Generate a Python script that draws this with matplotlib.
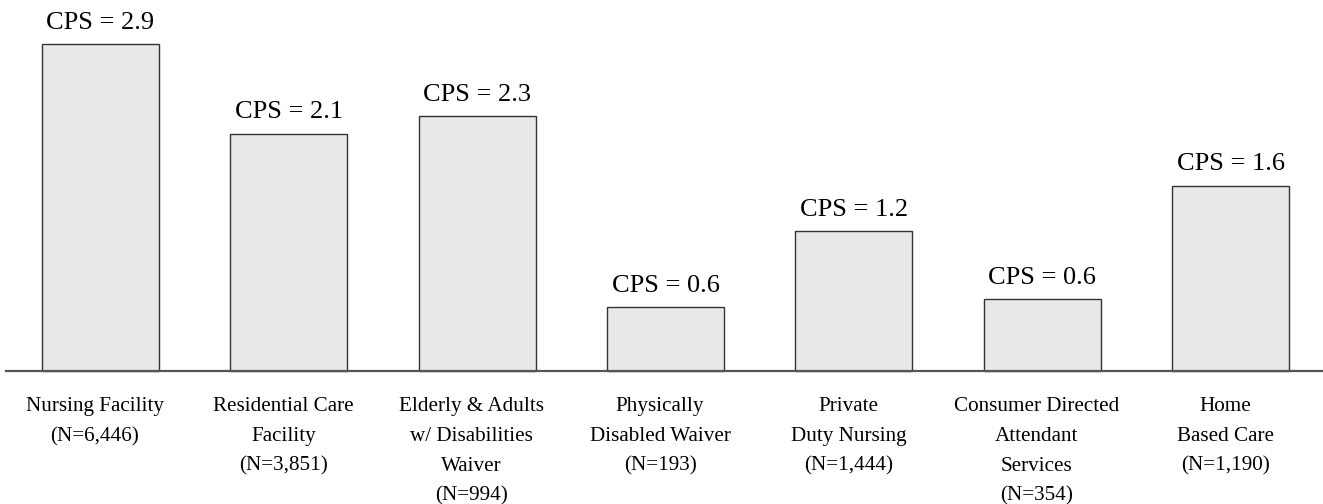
import matplotlib
matplotlib.use("Agg")
import matplotlib.pyplot as plt

plt.rcParams['font.family'] = ['Liberation Serif', 'DejaVu Serif']

categories = [
    "Nursing Facility\n(N=6,446)",
    "Residential Care\nFacility\n(N=3,851)",
    "Elderly & Adults\nw/ Disabilities\nWaiver\n(N=994)",
    "Physically\nDisabled Waiver\n(N=193)",
    "Private\nDuty Nursing\n(N=1,444)",
    "Consumer Directed\nAttendant\nServices\n(N=354)",
    "Home\nBased Care\n(N=1,190)",
]
cps_values = [2.894, 2.10, 2.257, 0.564, 1.239, 0.635, 1.640]
cps_labels = ["2.9", "2.1", "2.3", "0.6", "1.2", "0.6", "1.6"]

W, H = 1323, 504
fig = plt.figure(figsize=(W / 100, H / 100), dpi=100)
ax = fig.add_axes([0, 0, 1, 1])

x = list(range(len(categories)))
unit = 188.37  # px per category
k = 113.0      # px per CPS unit
base_px = 371
ax.set_xlim(-100.5 / unit, 6 + (W - 1230.7) / unit)
ax.set_ylim(-(H - base_px) / k, base_px / k)

ax.bar(x, cps_values, width=117 / unit, color='#e8e8e8',
       edgecolor='#333333', linewidth=1.0, zorder=2)
ax.axhline(0, xmin=6 / W, xmax=1, color='#555555', linewidth=1.6, zorder=3)

for xi, v, lab in zip(x, cps_values, cps_labels):
    ax.annotate(f"CPS = {lab}", xy=(xi, v), xytext=(0, 11), textcoords='offset points',
                ha='center', va='baseline', fontsize=19)

for xi, cat in zip(x, categories):
    ax.annotate(cat, xy=(xi, 0), xytext=(-4, -18.5), textcoords='offset points',
                ha='center', va='top', fontsize=15.2, linespacing=1.78,
                multialignment='center')

ax.axis('off')
fig.savefig("out.png", dpi=100)
